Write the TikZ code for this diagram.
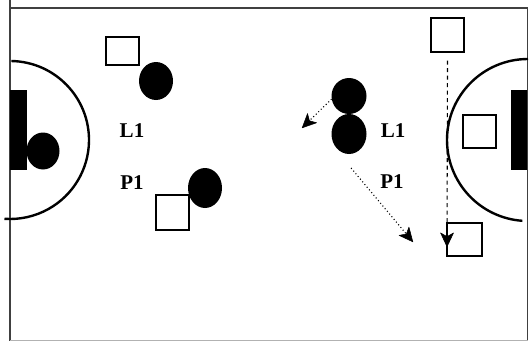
\documentclass[tikz,border=0pt]{standalone}
\usepackage{fontspec}
\setmainfont{Liberation Serif}
\usetikzlibrary{arrows.meta,shapes.geometric}
\begin{document}
\begin{tikzpicture}[x=1pt,y=1pt,
  sq/.style={draw=black,line width=1.4pt,fill=white,inner sep=0pt},
  ball/.style={ellipse,fill=black,inner sep=0pt},
  lbl/.style={font=\bfseries\fontsize{21}{21}\selectfont,inner sep=0pt},
  mv/.style={line width=1.1pt,-{Stealth[length=15pt,width=14pt,inset=4pt,line width=0.5pt,round]}},
]
\useasboundingbox (0,0) rectangle (529,341);
% frame
\draw[line width=1.6pt,draw=black!75] (10,341) -- (10,333) -- (527.5,333) -- (527.5,0.5) -- (10,0.5) -- cycle;
\draw[line width=1.2pt,draw=black!30] (10,0.8) -- (527.5,0.8);
% arcs and goals
\draw[line width=2.4pt] ([shift={(89:79)}]10,201) arc (89:-94:79);
\draw[line width=2.4pt] ([shift={(90:81)}]528,201) arc (90:266:81);
\fill (10,171) rectangle (27,251);
\fill (511,171) rectangle (527,251);
% balls/players (black)
\node[ball,minimum width=33pt,minimum height=37pt] (k) at (43,190) {};
\node[ball,minimum width=34pt,minimum height=38pt] (a1) at (156,260) {};
\node[ball,minimum width=34pt,minimum height=40pt] (a2) at (205,153) {};
\node[ball,minimum width=35pt,minimum height=36pt] (b1) at (349,245) {};
\node[ball,minimum width=35pt,minimum height=40pt] (b2) at (349,207) {};
% squares
\node[sq,minimum width=33pt,minimum height=28pt] (s1) at (122.5,290) {};
\node[sq,minimum width=33pt,minimum height=35pt] (s2) at (172.5,128.5) {};
\node[sq,minimum width=33pt,minimum height=34pt] (s3) at (447.5,306) {};
\node[sq,minimum width=35pt,minimum height=33pt] (s4) at (464.5,101.5) {};
\node[sq,minimum width=33pt,minimum height=33pt] (s5) at (479.5,209.5) {};
% labels
\node[lbl] (l1) at (132,210) {L1};
\node[lbl] (p1) at (132,158) {P1};
\node[lbl] (l2) at (393,210) {L1};
\node[lbl] (p2) at (392,159) {P1};
% movements
\coordinate (t1) at (302,213);
\coordinate (t2) at (413,99);
\coordinate (t3) at (447,94);
\draw[mv,dash pattern=on 4pt off 3.5pt] ([yshift=-8pt]s3.south) -- (t3);
\draw[mv,dash pattern=on 1pt off 2.5pt] (b1.190) -- (t1);
\draw[mv,dash pattern=on 1pt off 2.5pt] ([yshift=-14pt]b2.276) -- (t2);
\end{tikzpicture}
\end{document}
